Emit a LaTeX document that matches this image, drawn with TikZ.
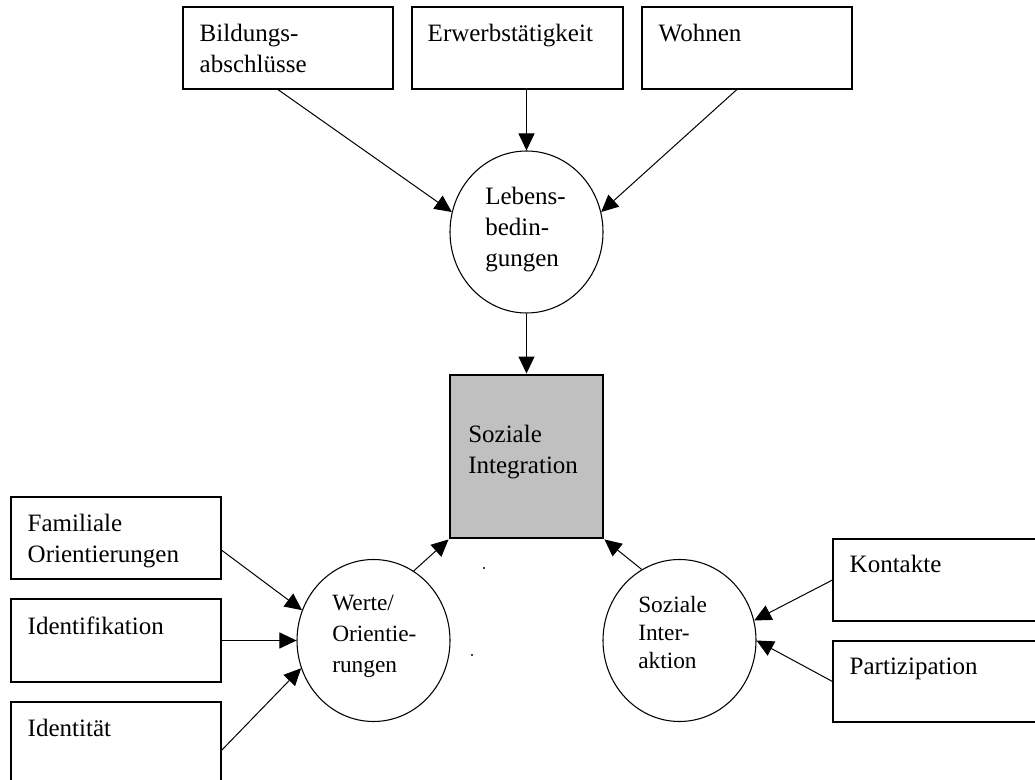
\documentclass[tikz,border=0pt]{standalone}
\usepackage{fontspec}
\setmainfont{Liberation Serif}
\usetikzlibrary{shapes.geometric,arrows.meta,calc,fit}
\definecolor{boxgray}{RGB}{192,192,192}
\begin{document}
\begin{tikzpicture}[x=0.75pt,y=-0.75pt,
  box/.style={draw, line width=0.8pt, inner sep=0pt, rectangle},
  centerbox/.style={draw, line width=2.2pt, fill=boxgray, inner sep=0pt, rectangle},
  circ/.style={draw, ellipse, line width=0.8pt, inner sep=0pt, minimum width=114.75pt, minimum height=121.5pt},
  txt/.style={inner sep=0pt, anchor=base west, align=left, text width=6cm, font=\fontsize{18.75pt}{23.25pt}\selectfont},
  stxtA/.style={txt, font=\fontsize{17.5pt}{23.6pt}\selectfont},
  stxtB/.style={txt, font=\fontsize{17.5pt}{21pt}\selectfont},
  arr/.style={line width=0.75pt, -{Triangle[length=12.75pt,width=12pt]}}]
\useasboundingbox (0,0) rectangle (1035,780);

% top boxes
\node[box, fit={(183,7) (393,89)}] (bild) {};
\node[box, fit={(412,7) (623,89)}] (erw) {};
\node[box, fit={(642,7) (852,89)}] (woh) {};
\node[txt] (bildT) at ($(bild.north west)+(17,35)$) {Bildungs-\\abschlüsse};
\node[txt] (erwT) at ($(erw.north west)+(16,35)$) {Erwerbstätigkeit};
\node[txt] (wohT) at ($(woh.north west)+(17,35)$) {Wohnen};

% left boxes
\node[box, fit={(11,497) (221,579)}] (fam) {};
\node[box, fit={(11,599) (221,682)}] (iden) {};
\node[box, fit={(11,702) (221,786)}] (idt) {};
\node[txt] (famT) at ($(fam.north west)+(17,35)$) {Familiale\\Orientierungen};
\node[txt] (idenT) at ($(iden.north west)+(17,36)$) {Identifikation};
\node[txt] (idtT) at ($(idt.north west)+(17,35)$) {Identität};

% right boxes
\node[box, fit={(833,539) (1042,621)}] (kon) {};
\node[box, fit={(833,641) (1042,722)}] (par) {};
\node[txt] (konT) at ($(kon.north west)+(17,34)$) {Kontakte};
\node[txt] (parT) at ($(par.north west)+(17,34)$) {Partizipation};

% centre box
\node[centerbox, fit={(450,375) (603,538)}] (soz) {};
\node[txt] (sozT) at (468,442) {Soziale\\Integration};

% circles
\node[circ] (leb) at (526.5,232) {};
\node[circ] (wer) at (373.5,640.5) {};
\node[circ] (int) at (679.5,640.5) {};
\node[txt] (lebT) at (485,205) {Lebens-\\bedin-\\gungen};
\node[stxtA] (werT) at (332,610) {Werte/\\Orientie-\\rungen};
\node[stxtB] (intT) at (638,612) {Soziale\\Inter-\\aktion};

% connectors
\draw[arr] ($(bild.south west)!0.452!(bild.south east)$) -- (leb.165);
\draw[arr] (erw.south -| leb.north) -- (leb.north);
\draw[arr] ($(woh.south west)!0.452!(woh.south east)$) -- (leb.15);
\draw[arr] (leb.south) -- (soz.north);
\draw[arr] ($(fam.north east)!0.646!(fam.south east)$) -- (wer.157);
\draw[arr] (iden.east) -- (wer.west);
\draw[arr] ($(idt.north east)!0.575!(idt.south east)$) -- (wer.201);
\draw[arr] (wer.60) -- (soz.south west);
\draw[arr] (int.118) -- (soz.south east);
\draw[arr] (kon.west) -- (int.15);
\draw[arr] (par.west) -- (int.east);

% stray dots
\fill (484,568) circle (0.8pt);
\fill (472,655) circle (0.8pt);
\end{tikzpicture}
\end{document}
